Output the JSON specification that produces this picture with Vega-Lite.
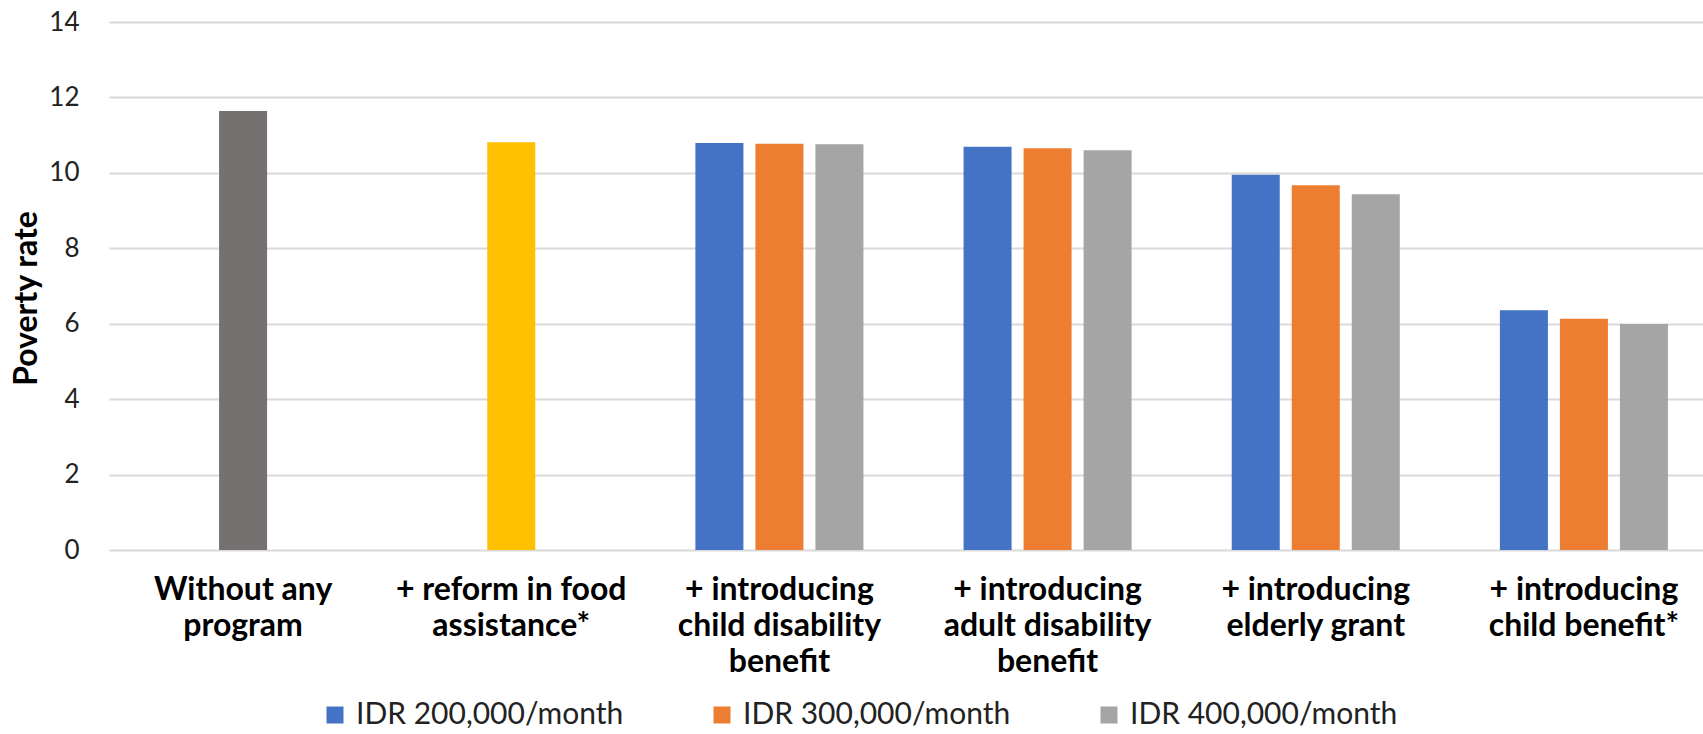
{
  "$schema": "https://vega.github.io/schema/vega-lite/v6.json",
  "autosize": {"type": "none"},
  "padding": {"left": 109, "top": 22, "right": 0, "bottom": 184},
  "width": 1609,
  "height": 528,
  "background": "white",
  "config": {
    "view": {"stroke": null},
    "font": "Lato",
    "axis": {"labelFont": "Lato", "titleFont": "Lato"},
    "legend": {"labelFont": "Lato"}
  },
  "datasets": {
    "single": [
      {"category": "Without any program", "series": "Without any program", "rate": 11.64},
      {"category": "+ reform in food assistance*", "series": "+ reform in food assistance*", "rate": 10.81}
    ],
    "grouped": [
      {"category": "+ introducing child disability benefit", "series": "IDR 200,000/month", "rate": 10.79},
      {"category": "+ introducing child disability benefit", "series": "IDR 300,000/month", "rate": 10.77},
      {"category": "+ introducing child disability benefit", "series": "IDR 400,000/month", "rate": 10.76},
      {"category": "+ introducing adult disability benefit", "series": "IDR 200,000/month", "rate": 10.69},
      {"category": "+ introducing adult disability benefit", "series": "IDR 300,000/month", "rate": 10.65},
      {"category": "+ introducing adult disability benefit", "series": "IDR 400,000/month", "rate": 10.60},
      {"category": "+ introducing elderly grant", "series": "IDR 200,000/month", "rate": 9.95},
      {"category": "+ introducing elderly grant", "series": "IDR 300,000/month", "rate": 9.67},
      {"category": "+ introducing elderly grant", "series": "IDR 400,000/month", "rate": 9.43},
      {"category": "+ introducing child benefit*", "series": "IDR 200,000/month", "rate": 6.36},
      {"category": "+ introducing child benefit*", "series": "IDR 300,000/month", "rate": 6.13},
      {"category": "+ introducing child benefit*", "series": "IDR 400,000/month", "rate": 5.99}
    ]
  },
  "encoding": {
    "x": {
      "field": "category",
      "type": "nominal",
      "scale": {
        "domain": ["Without any program", "+ reform in food assistance*", "+ introducing child disability benefit", "+ introducing adult disability benefit", "+ introducing elderly grant", "+ introducing child benefit*"],
        "paddingInner": 0.3734,
        "paddingOuter": 0.1867
      },
      "axis": {
        "title": null,
        "labelAngle": 0,
        "labelFontSize": 32,
        "labelFontWeight": "bold",
        "labelColor": "#000000",
        "labelLineHeight": 36,
        "labelPadding": 24,
        "labelBaseline": "top",
        "labelLimit": 400,
        "ticks": false,
        "domain": false,
        "grid": false,
        "labelExpr": "{'Without any program': ['Without any', 'program'], '+ reform in food assistance*': ['+ reform in food', 'assistance*'], '+ introducing child disability benefit': ['+ introducing', 'child disability', 'benefit'], '+ introducing adult disability benefit': ['+ introducing', 'adult disability', 'benefit'], '+ introducing elderly grant': ['+ introducing', 'elderly grant'], '+ introducing child benefit*': ['+ introducing', 'child benefit*']}[datum.label]"
      }
    },
    "y": {
      "field": "rate",
      "type": "quantitative",
      "scale": {"domain": [0, 14], "nice": false},
      "axis": {
        "title": "Poverty rate",
        "titleFontSize": 32,
        "titleFontWeight": "bold",
        "titleColor": "#000000",
        "titleAngle": -90,
        "titleAlign": "center",
        "titleBaseline": "middle",
        "titleX": -83,
        "titleY": 276,
        "values": [0, 2, 4, 6, 8, 10, 12, 14],
        "labelFontSize": 26,
        "labelColor": "#222222",
        "labelPadding": 30,
        "ticks": false,
        "domain": false,
        "grid": true,
        "gridColor": "#d9d9d9",
        "gridWidth": 2
      }
    },
    "color": {
      "field": "series",
      "type": "nominal",
      "scale": {
        "domain": ["Without any program", "+ reform in food assistance*", "IDR 200,000/month", "IDR 300,000/month", "IDR 400,000/month"],
        "range": ["#767171", "#FFC000", "#4472C4", "#ED7D31", "#A5A5A5"]
      },
      "legend": {
        "title": null,
        "values": ["IDR 200,000/month", "IDR 300,000/month", "IDR 400,000/month"],
        "orient": "none",
        "direction": "horizontal",
        "legendX": 211,
        "legendY": 678,
        "symbolType": "square",
        "symbolSize": 289,
        "symbolStrokeWidth": 0,
        "labelFontSize": 30,
        "labelColor": "#222222",
        "labelOffset": 6,
        "columnPadding": 83,
        "labelLimit": 400
      }
    }
  },
  "layer": [
    {
      "data": {"name": "single"},
      "mark": {"type": "bar", "width": 48}
    },
    {
      "data": {"name": "grouped"},
      "mark": {"type": "bar"},
      "encoding": {
        "xOffset": {
          "field": "series",
          "type": "nominal",
          "scale": {"domain": ["IDR 200,000/month", "IDR 300,000/month", "IDR 400,000/month"], "paddingInner": 0.2, "paddingOuter": 0}
        }
      }
    }
  ]
}
